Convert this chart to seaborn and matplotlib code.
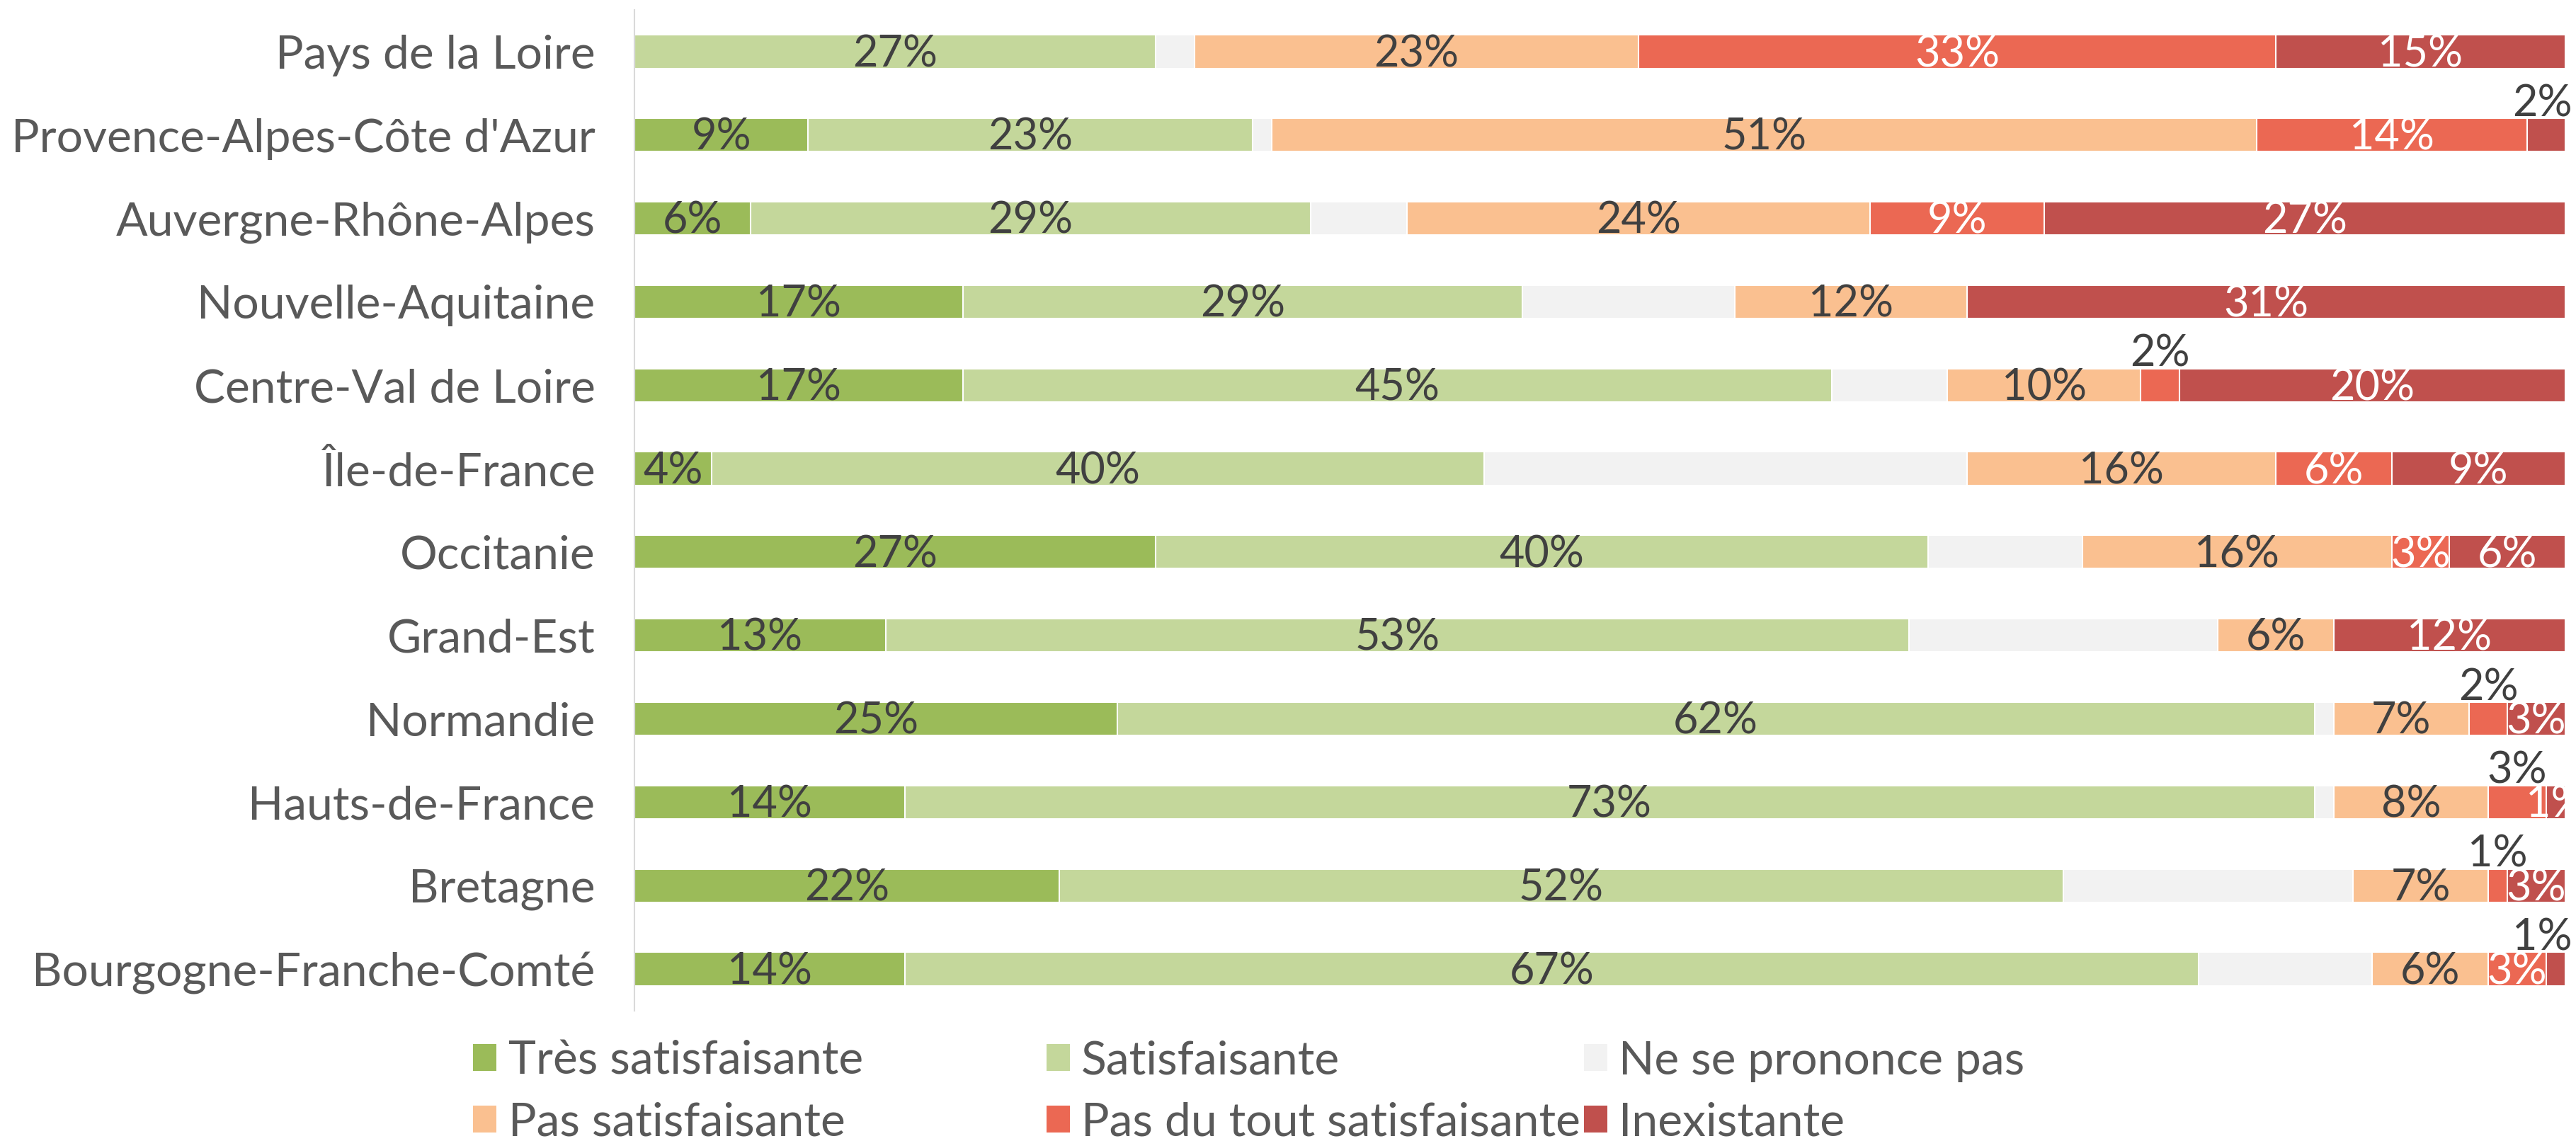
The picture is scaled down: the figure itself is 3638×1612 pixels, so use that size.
import numpy as np
import pandas as pd
import matplotlib
matplotlib.use("Agg")
import matplotlib.pyplot as plt
import seaborn as sns
from matplotlib.patches import Patch

# Regions, top to bottom
regions = [
    "Pays de la Loire", "Provence-Alpes-Côte d'Azur", "Auvergne-Rhône-Alpes",
    "Nouvelle-Aquitaine", "Centre-Val de Loire", "Île-de-France", "Occitanie",
    "Grand-Est", "Normandie", "Hauts-de-France", "Bretagne", "Bourgogne-Franche-Comté",
]
categories = [
    "Très satisfaisante", "Satisfaisante", "Ne se prononce pas",
    "Pas satisfaisante", "Pas du tout satisfaisante", "Inexistante",
]

# Shares in %
tres_satisfaisante = [0, 9, 6, 17, 17, 4, 27, 13, 25, 14, 22, 14]
satisfaisante = [27, 23, 29, 29, 45, 40, 40, 53, 62, 73, 52, 67]
ne_se_prononce_pas = [2, 1, 5, 11, 6, 25, 8, 16, 1, 1, 15, 9]
pas_satisfaisante = [23, 51, 24, 12, 10, 16, 16, 6, 7, 8, 7, 6]
pas_du_tout = [33, 14, 9, 0, 2, 6, 3, 0, 2, 3, 1, 3]
inexistante = [15, 2, 27, 31, 20, 9, 6, 12, 3, 1, 3, 1]

colors = ["#9BBB59", "#C4D79B", "#F2F2F2", "#FAC090", "#EB6853", "#C0504D"]

# (row, category) whose label sits above the bar
above = [(1, 5), (4, 4), (8, 4), (9, 4), (10, 4), (11, 5)]

sns.set_theme(style="white")
plt.rcParams["font.family"] = ["Lato", "DejaVu Sans"]

FS_LABEL = 44
FS_TEXT = 47.5
DARK = "#404040"
GREY = "#595959"

values = np.array([tres_satisfaisante, satisfaisante, ne_se_prononce_pas,
                   pas_satisfaisante, pas_du_tout, inexistante], dtype=float)
cum = values.cumsum(axis=0)

fig = plt.figure(figsize=(36.38, 16.12), dpi=100)
ax = fig.add_axes([0.2463, 0.1142, 0.9959 - 0.2463, 0.9913 - 0.1142])

# stacked bars: draw cumulative totals from the largest down
for k in range(len(categories) - 1, -1, -1):
    df = pd.DataFrame({"region": regions, "cum": cum[k]})
    sns.barplot(data=df, x="cum", y="region", orient="h", color=colors[k],
                saturation=1, width=0.4, edgecolor="white", linewidth=1.5, ax=ax)

# value labels (no label for "Ne se prononce pas")
for k in [0, 1, 3, 4, 5]:
    for i, v in enumerate(values[k]):
        if v == 0:
            continue
        xc = cum[k][i] - v / 2
        txt = f"{v:.0f}%"
        if (i, k) in above:
            ax.text(min(xc, 98.8), i - 0.225, txt, ha="center", va="baseline",
                    color=DARK, fontsize=FS_LABEL, clip_on=False)
        else:
            ax.text(xc, i + 0.18, txt, ha="center", va="baseline",
                    color="white" if k >= 4 else DARK, fontsize=FS_LABEL, clip_on=True)

ax.set_xlim(0, 100)
ax.set_xticks([])
ax.set_xlabel("")
ax.set_ylabel("")
for side in ["top", "right", "bottom"]:
    ax.spines[side].set_visible(False)
ax.spines["left"].set_color("#D9D9D9")
ax.spines["left"].set_linewidth(1.5)
ax.tick_params(axis="y", length=0, pad=40, labelsize=FS_TEXT, labelcolor=GREY)

# legend: 2 rows x 3 columns, row-major
handles = [Patch(facecolor=c, edgecolor="none") for c in colors]
col_x = [0.1837, 0.4062, 0.6148]
for j in range(3):
    fig.legend([handles[j], handles[j + 3]], [categories[j], categories[j + 3]],
               loc="center left", bbox_to_anchor=(col_x[j], 0.0432),
               frameon=False, fontsize=FS_TEXT, handlelength=0.5, handleheight=0.5,
               handletextpad=0.25, labelspacing=0.42, borderpad=0,
               borderaxespad=0, labelcolor=GREY)

fig.savefig("out.png", dpi=100)
plt.close(fig)
